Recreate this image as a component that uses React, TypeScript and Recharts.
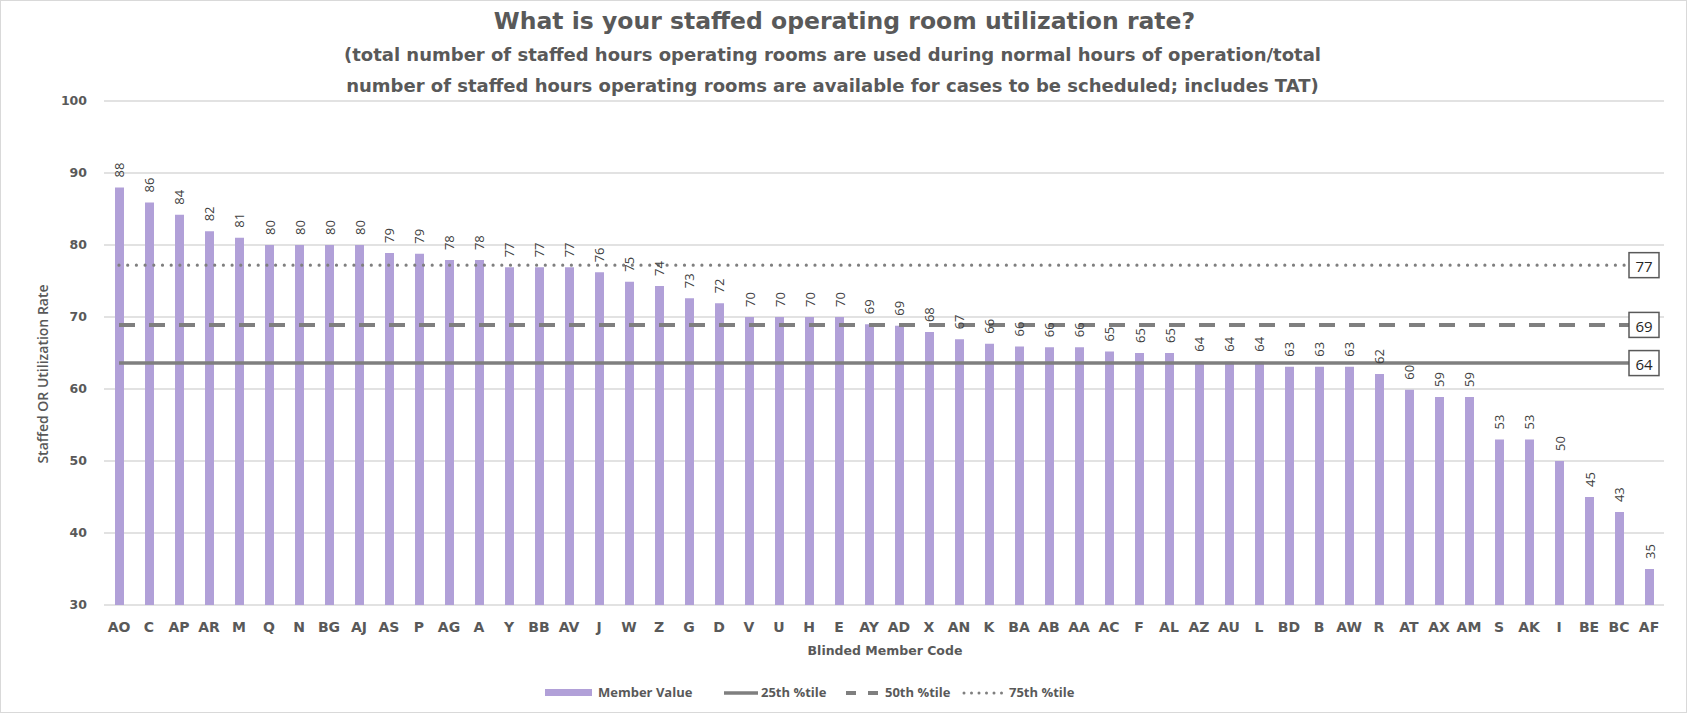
import React from 'react';
import {
  ComposedChart,
  Bar,
  XAxis,
  YAxis,
  CartesianGrid,
  ReferenceLine,
  LabelList,
} from 'recharts';

const CODES = [
  'AO', 'C', 'AP', 'AR', 'M', 'Q', 'N', 'BG', 'AJ', 'AS', 'P', 'AG', 'A',
  'Y', 'BB', 'AV', 'J', 'W', 'Z', 'G', 'D', 'V', 'U', 'H', 'E', 'AY',
  'AD', 'X', 'AN', 'K', 'BA', 'AB', 'AA', 'AC', 'F', 'AL', 'AZ', 'AU', 'L',
  'BD', 'B', 'AW', 'R', 'AT', 'AX', 'AM', 'S', 'AK', 'I', 'BE', 'BC', 'AF',
];

const VALUES = [
  88.0, 85.9, 84.2, 81.9, 81.0, 80.0, 80.0, 80.0, 80.0, 78.9, 78.8, 77.9, 77.9,
  76.9, 76.9, 76.9, 76.2, 74.9, 74.3, 72.6, 71.9, 70.0, 70.0, 70.0, 70.0, 69.0,
  68.8, 67.9, 66.9, 66.3, 65.9, 65.8, 65.8, 65.2, 65.0, 65.0, 63.8, 63.8, 63.8,
  63.1, 63.1, 63.1, 62.1, 59.9, 58.9, 58.9, 53.0, 53.0, 50.0, 45.0, 42.9, 35.0,
];

const Y_TICKS = [30, 40, 50, 60, 70, 80, 90, 100];

const P25 = 63.6;
const P50 = 68.9;
const P75 = 77.2;

const data = CODES.map((code, i) => ({ code, value: VALUES[i] }));

const GRAY = '#595959';
const LINE = '#7f7f7f';
const PURPLE = '#b1a0d8';
const WIDE = 'DejaVu Sans';

function BarLabel(props: any) {
  const { x, y, width, value } = props;
  const cx = Number(x) + Number(width) / 2;
  const ty = Number(y) - 10;
  return (
    <text
      x={cx}
      y={ty}
      transform={`rotate(-90 ${cx} ${ty})`}
      textAnchor="start"
      dominantBaseline="central"
      fill="#404040"
      fontSize={13}
      fontFamily="Open Sans"
    >
      {Math.round(value)}
    </text>
  );
}

// boxed value drawn at the right end of a percentile line
function EndBox(props: any) {
  const { viewBox, value } = props;
  if (!viewBox) return null;
  const ex = viewBox.x + viewBox.width - 5;
  const ey = viewBox.y;
  return (
    <g>
      <rect x={ex - 15} y={ey - 12.5} width={30} height={25} fill="#fff" stroke="#595959" strokeWidth={1.5} />
      <text x={ex} y={ey + 1} textAnchor="middle" dominantBaseline="central" fill="#262626" fontSize={15} fontFamily="Open Sans">
        {Math.round(value)}
      </text>
    </g>
  );
}

const PERCENTILES = [
  { name: '25th %tile', value: P25, dash: undefined, width: 3.5, cap: 'butt' },
  { name: '50th %tile', value: P50, dash: '16 14', width: 4, cap: 'butt' },
  { name: '75th %tile', value: P75, dash: '0 8.7', width: 3.2, cap: 'round' },
];

export default function App() {
  const first = CODES[0];
  const last = CODES[CODES.length - 1];
  return (
    <div
      style={{
        position: 'absolute',
        left: 0,
        top: 0,
        width: 1687,
        height: 713,
        background: '#fff',
        boxSizing: 'border-box',
        border: '1px solid #d9d9d9',
        fontFamily: 'Open Sans',
        color: GRAY,
      }}
    >
      <div style={{ position: 'absolute', left: 0, width: 1687, top: 4, textAlign: 'center', fontFamily: WIDE, fontSize: 23.5, fontWeight: 700, lineHeight: '32px' }}>
        What is your staffed operating room utilization rate?
      </div>
      <div style={{ position: 'absolute', left: -12, width: 1687, top: 38, textAlign: 'center', fontFamily: WIDE, fontSize: 18, fontWeight: 700, lineHeight: '31px' }}>
        (total number of staffed hours operating rooms are used during normal hours of operation/total
        <br />
        number of staffed hours operating rooms are available for cases to be scheduled; includes TAT)
      </div>
      <div
        style={{
          position: 'absolute',
          left: 41,
          top: 373,
          transform: 'translate(-50%, -50%) rotate(-90deg)',
          whiteSpace: 'nowrap',
          fontSize: 14,
          fontWeight: 600,
        }}
      >
        Staffed OR Utilization Rate
      </div>
      <div style={{ position: 'absolute', left: 104, width: 1560, top: 642, textAlign: 'center', fontFamily: WIDE, fontSize: 12.5, fontWeight: 700 }}>
        Blinded Member Code
      </div>

      <div style={{ position: 'absolute', top: 682, left: 0, width: 1687, height: 20 }}>
        <div style={{ position: 'absolute', left: 544, top: 6, width: 47, height: 7, background: PURPLE }} />
        <div style={{ position: 'absolute', left: 597, top: 0, fontSize: 13, fontWeight: 700 }}>Member Value</div>
        <svg style={{ position: 'absolute', left: 723, top: 0 }} width={34} height={20}>
          <line x1={0} y1={10} x2={34} y2={10} stroke={LINE} strokeWidth={3.5} />
        </svg>
        <div style={{ position: 'absolute', left: 760, top: 0, fontSize: 13, fontWeight: 700 }}>25th %tile</div>
        <svg style={{ position: 'absolute', left: 845, top: 0 }} width={36} height={20}>
          <line x1={0} y1={10} x2={36} y2={10} stroke={LINE} strokeWidth={4} strokeDasharray="10 12" />
        </svg>
        <div style={{ position: 'absolute', left: 884, top: 0, fontSize: 13, fontWeight: 700 }}>50th %tile</div>
        <svg style={{ position: 'absolute', left: 961, top: 0 }} width={42} height={20}>
          <line x1={2} y1={10} x2={42} y2={10} stroke={LINE} strokeWidth={3} strokeDasharray="0 7.5" strokeLinecap="round" />
        </svg>
        <div style={{ position: 'absolute', left: 1008, top: 0, fontSize: 13, fontWeight: 700 }}>75th %tile</div>
      </div>

      <div style={{ position: 'absolute', left: -1, top: -1 }}>
        <ComposedChart
          width={1687}
          height={713}
          data={data}
          margin={{ top: 101, right: 23, bottom: 78, left: 0 }}
          barCategoryGap={0}
        >
          <CartesianGrid vertical={false} stroke="#d9d9d9" strokeWidth={1.5} />
          <XAxis
            dataKey="code"
            interval={0}
            axisLine={false}
            tickLine={false}
            tickSize={0}
            tickMargin={17}
            height={30}
            tick={{ fill: GRAY, fontSize: 14, fontWeight: 700, fontFamily: WIDE }}
          />
          <YAxis
            domain={[30, 100]}
            ticks={Y_TICKS}
            interval={0}
            axisLine={false}
            tickLine={false}
            tickSize={0}
            tickMargin={17}
            width={104}
            tick={{ fill: GRAY, fontSize: 12.5, fontWeight: 700, fontFamily: WIDE }}
          />
          <Bar dataKey="value" fill={PURPLE} barSize={9} isAnimationActive={false}>
            <LabelList dataKey="value" content={<BarLabel />} />
          </Bar>
          {PERCENTILES.map(p => (
            <ReferenceLine
              key={p.name}
              segment={[{ x: first, y: p.value }, { x: last, y: p.value }]}
              stroke={LINE}
              strokeWidth={p.width}
              strokeDasharray={p.dash}
              strokeLinecap={p.cap as any}
              ifOverflow="visible"
              label={<EndBox value={p.value} />}
            />
          ))}
        </ComposedChart>
      </div>
    </div>
  );
}
